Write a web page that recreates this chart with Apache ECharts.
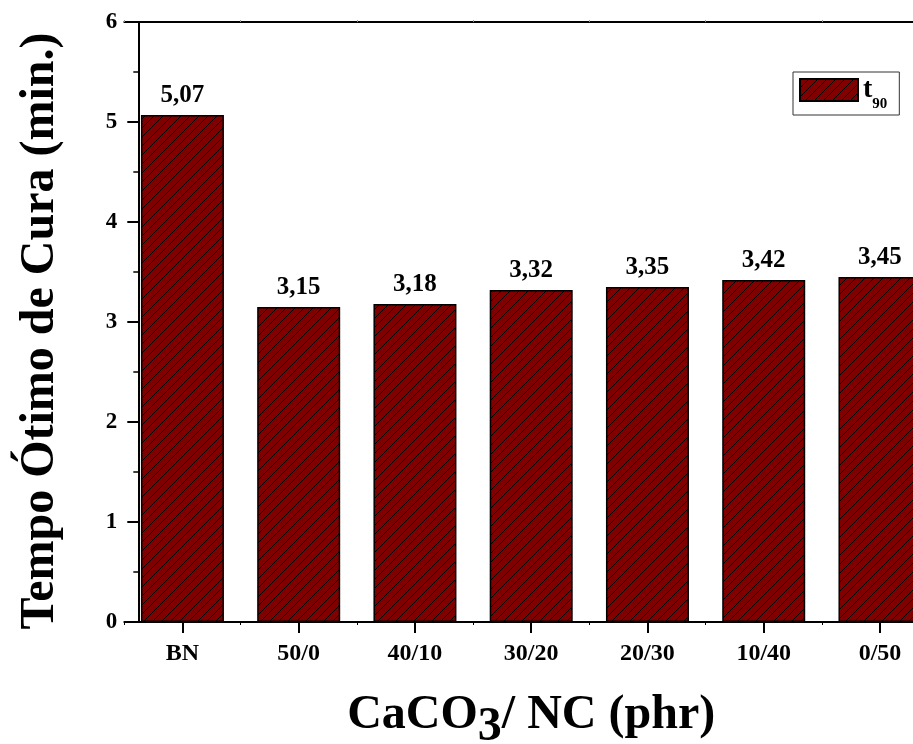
<!DOCTYPE html>
<html>
<head>
<meta charset="utf-8">
<title>Tempo Ótimo de Cura</title>
<script src="https://cdn.jsdelivr.net/npm/echarts@6/dist/echarts.min.js"></script>
<style>
  html, body { margin: 0; padding: 0; background: #fff; }
  #chart { width: 913px; height: 744px; }
</style>
</head>
<body>
<div id="chart"></div>
<script>
// Samples on the x axis (CaCO3 / NC loading, phr)
const categories = ['BN', '50/0', '40/10', '30/20', '20/30', '10/40', '0/50'];
// Optimum cure time t90 (min.)
const t90Values = [5.07, 3.15, 3.18, 3.32, 3.35, 3.42, 3.45];
const seriesName = 't90';

const FONT = '"Liberation Serif", "Times New Roman", serif';

// Diagonal "/" hatch on dark red, used as the bar fill
function hatchTile() {
  const s = 9;
  const c = document.createElement('canvas');
  c.width = s; c.height = s;
  const g = c.getContext('2d');
  g.fillStyle = '#800000';
  g.fillRect(0, 0, s, s);
  g.strokeStyle = '#000';
  g.lineWidth = 1;
  g.beginPath();
  g.moveTo(-1, s + 1); g.lineTo(s + 1, -1);
  g.moveTo(-1, 1); g.lineTo(1, -1);
  g.moveTo(s - 1, s + 1); g.lineTo(s + 1, s - 1);
  g.stroke();
  return c;
}
const hatch = { image: hatchTile(), repeat: 'repeat' };

const chart = echarts.init(document.getElementById('chart'), null, { renderer: 'canvas' });

const boldText = { fontFamily: FONT, fontWeight: 'bold', color: '#000' };

chart.setOption({
  backgroundColor: '#fff',
  animation: false,
  grid: {
    left: 124.3, top: 22, width: 813.8, height: 600,
    containLabel: false, outerBoundsMode: 'none'
  },
  legend: {
    data: [seriesName],
    left: 793, top: 72,
    orient: 'vertical',
    icon: 'rect',
    itemWidth: 58, itemHeight: 22,
    itemGap: 0,
    padding: [4, 12, 3, 6],
    borderColor: '#333', borderWidth: 1,
    backgroundColor: '#fff',
    selectedMode: false,
    formatter: () => '{t|t}{s|90}',
    textStyle: {
      ...boldText,
      rich: {
        t: { ...boldText, fontSize: 28, lineHeight: 28, verticalAlign: 'top' },
        s: { ...boldText, fontSize: 15, lineHeight: 15, verticalAlign: 'top', padding: [21, 0, 0, 0] }
      }
    }
  },
  xAxis: [
    {
      type: 'category', position: 'bottom', data: categories,
      axisLine: { show: true, lineStyle: { color: '#000', width: 2 } },
      axisTick: { show: true, alignWithLabel: true, length: 11, lineStyle: { color: '#000', width: 2 } },
      axisLabel: { ...boldText, fontSize: 24, margin: 20 },
      splitLine: { show: false },
      name: '{a|CaCO}{s|3}{a|/ NC (phr)}',
      nameLocation: 'middle',
      nameGap: 70,
      nameTextStyle: {
        ...boldText,
        rich: {
          a: { ...boldText, fontSize: 48, lineHeight: 48, verticalAlign: 'top' },
          s: { ...boldText, fontSize: 48, lineHeight: 48, verticalAlign: 'top', padding: [12, 0, 0, 0] }
        }
      }
    },
    {
      // short ticks between the categories
      type: 'category', position: 'bottom', data: categories,
      axisLine: { show: false },
      axisTick: { show: true, alignWithLabel: false, length: 3, lineStyle: { color: '#000', width: 1 } },
      axisLabel: { show: false },
      splitLine: { show: false }
    },
    {
      // frame line along the top
      type: 'category', position: 'top', data: categories,
      axisLine: { show: true, lineStyle: { color: '#000', width: 2 } },
      axisTick: { show: true, alignWithLabel: false, length: 2, lineStyle: { color: '#999', width: 1 } },
      axisLabel: { show: false },
      splitLine: { show: false }
    }
  ],
  yAxis: {
    type: 'value', min: 0, max: 6, interval: 1,
    offset: -14,
    axisLine: { show: true, lineStyle: { color: '#000', width: 2 } },
    axisTick: { show: true, length: 11, lineStyle: { color: '#000', width: 2 } },
    minorTick: { show: true, splitNumber: 2, length: 5, lineStyle: { color: '#000', width: 1.5 } },
    splitLine: { show: false },
    minorSplitLine: { show: false },
    axisLabel: { ...boldText, fontSize: 23, margin: 21 },
    name: 'Tempo Ótimo de Cura (min.)',
    nameLocation: 'middle',
    nameGap: 74,
    nameTextStyle: { ...boldText, fontSize: 48, padding: [0, 18, 0, 0] }
  },
  series: [{
    name: seriesName,
    type: 'bar',
    xAxisIndex: 0,
    data: t90Values,
    barWidth: 83,
    itemStyle: { color: hatch, borderColor: '#000', borderWidth: 1.5 },
    label: {
      show: true, position: 'top', distance: 7,
      ...boldText, fontSize: 25,
      formatter: p => p.value.toFixed(2).replace('.', ',')
    }
  }]
});
</script>
</body>
</html>
